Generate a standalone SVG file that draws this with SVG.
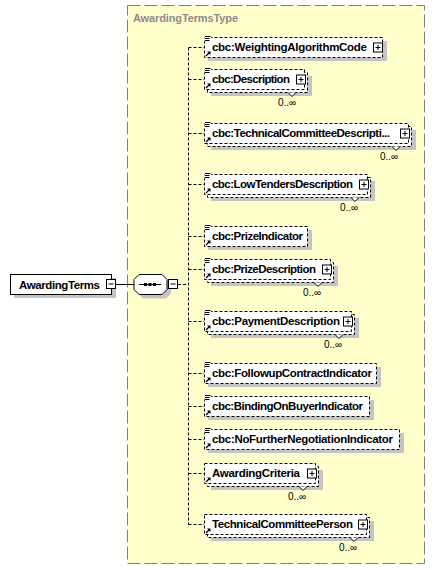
<svg xmlns="http://www.w3.org/2000/svg" xmlns:xlink="http://www.w3.org/1999/xlink" width="437" height="570" viewBox="0 0 437 570">
<style>
.bx{fill:#fff;stroke:#000;stroke-width:1;stroke-dasharray:3,2}
.sh{fill:#c4c4c4}
.t{font-family:"Liberation Sans",Arial,sans-serif;font-weight:bold;font-size:11.5px;fill:#000}
.lb{font-family:"Liberation Sans",Arial,sans-serif;font-size:10px;fill:#000;text-anchor:middle}
.cn{fill:none;stroke:#000;stroke-width:1;stroke-dasharray:3,2}
.nt{fill:#fff;stroke:#000;stroke-width:1}
</style>
<defs>
<g id="plus"><rect x="0.5" y="0.5" width="9" height="9" fill="#fff" stroke="#000"/><path d="M2.5,5 H7.5 M5,2.5 V7.5" stroke="#000" fill="none"/></g>
<g id="minus"><rect x="0.5" y="0.5" width="9" height="9" fill="#fff" stroke="#000"/><path d="M2.5,5 H7.5" stroke="#000" fill="none"/></g>
<g id="eq"><rect x="0" y="-2" width="6.5" height="6" fill="#fff"/><path d="M0.5,-1 H6 M0.5,1 H5 M0.5,3 H5" stroke="#000" fill="none"/></g>
<g id="arr"><path d="M1.5,-1.5 L4.5,-4.5" stroke="#000" fill="none" stroke-width="1.2"/><polygon points="6,-6 2.5,-6 6,-2.5" fill="#000"/></g>
</defs>

<g id="type-box">
<rect x="127.5" y="5.5" width="297" height="558" fill="#ffffcc" stroke="#808080" stroke-dasharray="13,4"/>
<text x="133" y="22" font-family="Liberation Sans,Arial,sans-serif" font-weight="bold" font-size="11" fill="#8c8c8c" textLength="105">AwardingTermsType</text>
</g>

<g id="connectors">
<path d="M116,284.5 H134" stroke="#000" fill="none"/>
<path class="cn" d="M178,284.5 H188.5"/>
<path class="cn" d="M188.5,47.5 V524.5"/>
<path class="cn" d="M188.5,47.5 H204 M188.5,79.5 H204 M188.5,133.5 H204 M188.5,184.5 H204 M188.5,236.5 H204 M188.5,269.5 H204 M188.5,321.5 H204 M188.5,373.5 H204 M188.5,406.5 H204 M188.5,439.5 H204 M188.5,473.5 H204 M188.5,524.5 H204"/>
</g>

<g id="AwardingTerms">
<rect class="sh" x="14" y="278" width="102" height="20"/>
<rect x="10.5" y="274.5" width="101" height="20" fill="#fff" stroke="#000"/>
<text class="t" x="19" y="288.5" textLength="81">AwardingTerms</text>
<use xlink:href="#minus" x="106" y="279"/>
</g>

<g id="sequence">
<polygon class="sh" points="143,278.5 166,278.5 171,283.5 171,293.5 166,298.5 143,298.5 138,293.5 138,283.5"/>
<polygon points="139,274.5 162,274.5 167,279.5 167,289.5 162,294.5 139,294.5 134,289.5 134,279.5" fill="#fff" stroke="#000"/>
<path d="M139,284.5 H161" stroke="#000"/>
<rect x="144" y="283" width="3" height="3" fill="#000"/>
<rect x="148.5" y="283" width="3" height="3" fill="#000"/>
<rect x="153" y="283" width="3" height="3" fill="#000"/>
<use xlink:href="#minus" x="168" y="279"/>
</g>

<g id="WeightingAlgorithmCode">
<rect class="sh" x="208" y="41" width="179" height="20"/>
<rect class="bx" x="204.5" y="37.5" width="178" height="20"/>
<use xlink:href="#eq" x="204.5" y="37.5"/>
<use xlink:href="#arr" x="204.5" y="57.5"/>
<text class="t" x="212" y="51" textLength="155">cbc:WeightingAlgorithmCode</text>
<use xlink:href="#plus" x="373" y="42.5"/>
</g>

<g id="Description">
<rect class="sh" x="211" y="76" width="101" height="20"/>
<rect class="bx" x="207.5" y="72.5" width="100" height="20"/>
<rect class="bx" x="204.5" y="69.5" width="100" height="20"/>
<path class="nt" d="M288,92.5 L292,96.5 L296,92.5"/>
<use xlink:href="#eq" x="204.5" y="69.5"/>
<use xlink:href="#arr" x="204.5" y="89.5"/>
<text class="t" x="212" y="83" textLength="78">cbc:Description</text>
<use xlink:href="#plus" x="296" y="74.5"/>
<text class="lb" x="287" y="106">0..∞</text>
</g>

<g id="TechnicalCommitteeDescription">
<rect class="sh" x="211" y="130" width="205" height="20"/>
<rect class="bx" x="207.5" y="126.5" width="204" height="20"/>
<rect class="bx" x="204.5" y="123.5" width="204" height="20"/>
<path class="nt" d="M392,146.5 L396,150.5 L400,146.5"/>
<use xlink:href="#eq" x="204.5" y="123.5"/>
<use xlink:href="#arr" x="204.5" y="143.5"/>
<text class="t" x="212" y="137" textLength="178">cbc:TechnicalCommitteeDescripti...</text>
<use xlink:href="#plus" x="400" y="128.5"/>
<text class="lb" x="389" y="160">0..∞</text>
</g>

<g id="LowTendersDescription">
<rect class="sh" x="211" y="181" width="164" height="20"/>
<rect class="bx" x="207.5" y="177.5" width="163" height="20"/>
<rect class="bx" x="204.5" y="174.5" width="163" height="20"/>
<path class="nt" d="M351,197.5 L355,201.5 L359,197.5"/>
<use xlink:href="#eq" x="204.5" y="174.5"/>
<use xlink:href="#arr" x="204.5" y="194.5"/>
<text class="t" x="212" y="188" textLength="141">cbc:LowTendersDescription</text>
<use xlink:href="#plus" x="359" y="179.5"/>
<text class="lb" x="349" y="211">0..∞</text>
</g>

<g id="PrizeIndicator">
<rect class="sh" x="208" y="230" width="104" height="20"/>
<rect class="bx" x="204.5" y="226.5" width="103" height="20"/>
<use xlink:href="#eq" x="204.5" y="226.5"/>
<use xlink:href="#arr" x="204.5" y="246.5"/>
<text class="t" x="212" y="240" textLength="91">cbc:PrizeIndicator</text>
</g>

<g id="PrizeDescription">
<rect class="sh" x="211" y="266" width="127" height="20"/>
<rect class="bx" x="207.5" y="262.5" width="126" height="20"/>
<rect class="bx" x="204.5" y="259.5" width="126" height="20"/>
<path class="nt" d="M314,282.5 L318,286.5 L322,282.5"/>
<use xlink:href="#eq" x="204.5" y="259.5"/>
<use xlink:href="#arr" x="204.5" y="279.5"/>
<text class="t" x="212" y="273" textLength="104">cbc:PrizeDescription</text>
<use xlink:href="#plus" x="322" y="264.5"/>
<text class="lb" x="312" y="296">0..∞</text>
</g>

<g id="PaymentDescription">
<rect class="sh" x="211" y="318" width="148" height="20"/>
<rect class="bx" x="207.5" y="314.5" width="147" height="20"/>
<rect class="bx" x="204.5" y="311.5" width="147" height="20"/>
<path class="nt" d="M335,334.5 L339,338.5 L343,334.5"/>
<use xlink:href="#eq" x="204.5" y="311.5"/>
<use xlink:href="#arr" x="204.5" y="331.5"/>
<text class="t" x="212" y="325" textLength="128">cbc:PaymentDescription</text>
<use xlink:href="#plus" x="343" y="316.5"/>
<text class="lb" x="333" y="348">0..∞</text>
</g>

<g id="FollowupContractIndicator">
<rect class="sh" x="208" y="367" width="173" height="20"/>
<rect class="bx" x="204.5" y="363.5" width="172" height="20"/>
<use xlink:href="#eq" x="204.5" y="363.5"/>
<use xlink:href="#arr" x="204.5" y="383.5"/>
<text class="t" x="212" y="377" textLength="160">cbc:FollowupContractIndicator</text>
</g>

<g id="BindingOnBuyerIndicator">
<rect class="sh" x="208" y="400" width="166" height="20"/>
<rect class="bx" x="204.5" y="396.5" width="165" height="20"/>
<use xlink:href="#eq" x="204.5" y="396.5"/>
<use xlink:href="#arr" x="204.5" y="416.5"/>
<text class="t" x="212" y="410" textLength="151">cbc:BindingOnBuyerIndicator</text>
</g>

<g id="NoFurtherNegotiationIndicator">
<rect class="sh" x="208" y="433" width="196" height="20"/>
<rect class="bx" x="204.5" y="429.5" width="195" height="20"/>
<use xlink:href="#eq" x="204.5" y="429.5"/>
<use xlink:href="#arr" x="204.5" y="449.5"/>
<text class="t" x="212" y="443" textLength="181">cbc:NoFurtherNegotiationIndicator</text>
</g>

<g id="AwardingCriteria">
<rect class="sh" x="211" y="470" width="112" height="20"/>
<rect class="bx" x="207.5" y="466.5" width="111" height="20"/>
<rect class="bx" x="204.5" y="463.5" width="111" height="20"/>
<path class="nt" d="M299,486.5 L303,490.5 L307,486.5"/>
<use xlink:href="#arr" x="204.5" y="483.5"/>
<text class="t" x="212" y="477" textLength="88">AwardingCriteria</text>
<use xlink:href="#plus" x="307" y="468.5"/>
<text class="lb" x="297" y="500">0..∞</text>
</g>

<g id="TechnicalCommitteePerson">
<rect class="sh" x="211" y="521" width="163" height="20"/>
<rect class="bx" x="207.5" y="517.5" width="162" height="20"/>
<rect class="bx" x="204.5" y="514.5" width="162" height="20"/>
<path class="nt" d="M350,537.5 L354,541.5 L358,537.5"/>
<use xlink:href="#arr" x="204.5" y="534.5"/>
<text class="t" x="212" y="528" textLength="141">TechnicalCommitteePerson</text>
<use xlink:href="#plus" x="358" y="519.5"/>
<text class="lb" x="348" y="551">0..∞</text>
</g>
</svg>
